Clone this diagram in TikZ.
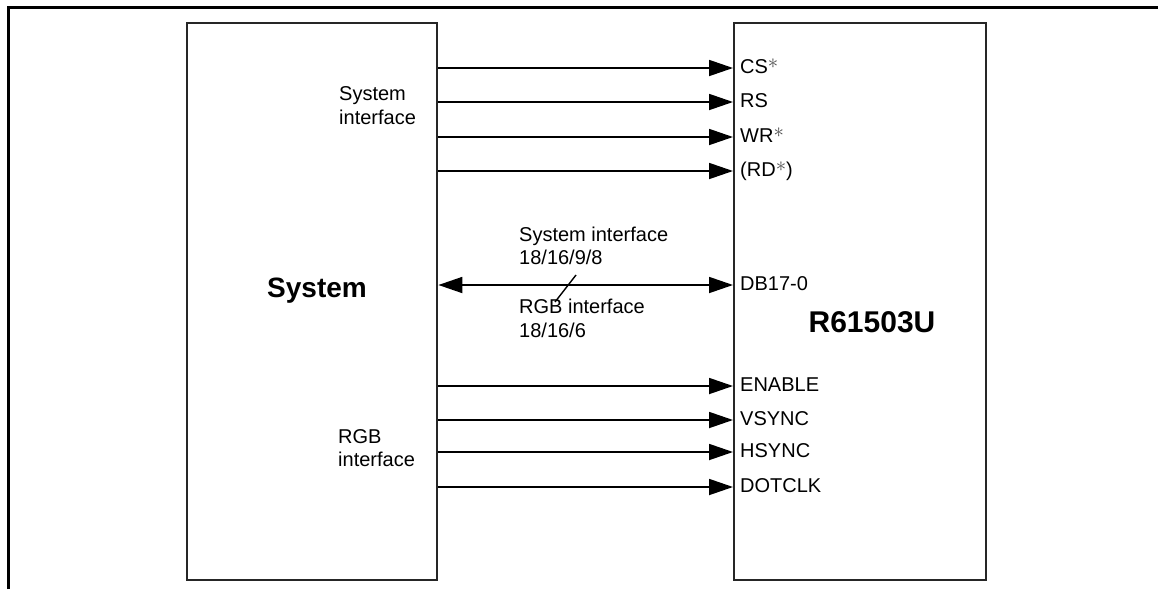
\documentclass[tikz,border=0pt]{standalone}
\usepackage{fontspec}
\setmainfont{Liberation Sans}
\usetikzlibrary{arrows.meta}
\newcommand{\myast}{\raisebox{4.5pt}{\textcolor{black!70}{$\ast$}}}
\begin{document}
\begin{tikzpicture}[x=1pt,y=-1pt,
  box/.style={draw=black!85,line width=2.4pt,inner sep=0pt,anchor=north west},
  sig/.style={line width=1.8pt,-{Triangle[length=24pt,width=16pt]}},
  bisig/.style={line width=1.8pt,{Triangle[length=24pt,width=16pt]}-{Triangle[length=24pt,width=16pt]}},
  pin/.style={font=\fontsize{20}{24}\selectfont,inner sep=0pt,anchor=west,text height=14pt,text depth=4pt},
  txt/.style={font=\fontsize{20}{24}\selectfont,inner sep=0pt,anchor=base west},
  big/.style={font=\fontsize{28}{32}\selectfont\bfseries,inner sep=0pt,anchor=base}
]
\useasboundingbox (0,0) rectangle (1158,589);
\draw[line width=3pt] (8,589) -- (8,7) -- (1158,7);

\node[box,minimum width=250pt,minimum height=557pt] (sys) at (186,22) {};
\node[box,minimum width=252pt,minimum height=557pt] (chip) at (733,22) {};

\node[big] (sysl) at (317,297) {System};
\node[big,font=\fontsize{30}{34}\selectfont\bfseries] (chipl) at (872,332) {R61503U};

\node[txt] (si1) at (339,100) {System};
\node[txt] (si2) at (339,124) {interface};
\node[txt] (ri1) at (338,443) {RGB};
\node[txt] (ri2) at (338,466) {interface};

\node[pin] (cs) at (740,68) {CS\myast};
\node[pin] (rs) at (740,102) {RS};
\node[pin] (wr) at (740,137) {WR\myast};
\node[pin] (rd) at (740,171) {(RD\myast)};
\node[pin] (db) at (740,285) {DB17-0};
\node[pin] (en) at (740,386) {ENABLE};
\node[pin] (vs) at (740,420) {VSYNC};
\node[pin] (hs) at (740,452) {HSYNC};
\node[pin] (dc) at (740,487) {DOTCLK};

\foreach \p in {cs,rs,wr,rd,en,vs,hs,dc}
  \draw[sig] (sys.east |- \p.west) -- (chip.west |- \p.west);
\draw[bisig] (sys.east |- db.west) -- (chip.west |- db.west);

\node[txt] (bw1) at (519,241) {System interface};
\node[txt] (bw2) at (519,264) {18/16/9/8};
\node[txt] (bw3) at (519,313) {RGB interface};
\node[txt] (bw4) at (519,337) {18/16/6};
\coordinate (sl1) at (576,275);
\coordinate (sl2) at (555,302);
\draw[line width=1.4pt] (sl1) -- (sl2);
\end{tikzpicture}
\end{document}
